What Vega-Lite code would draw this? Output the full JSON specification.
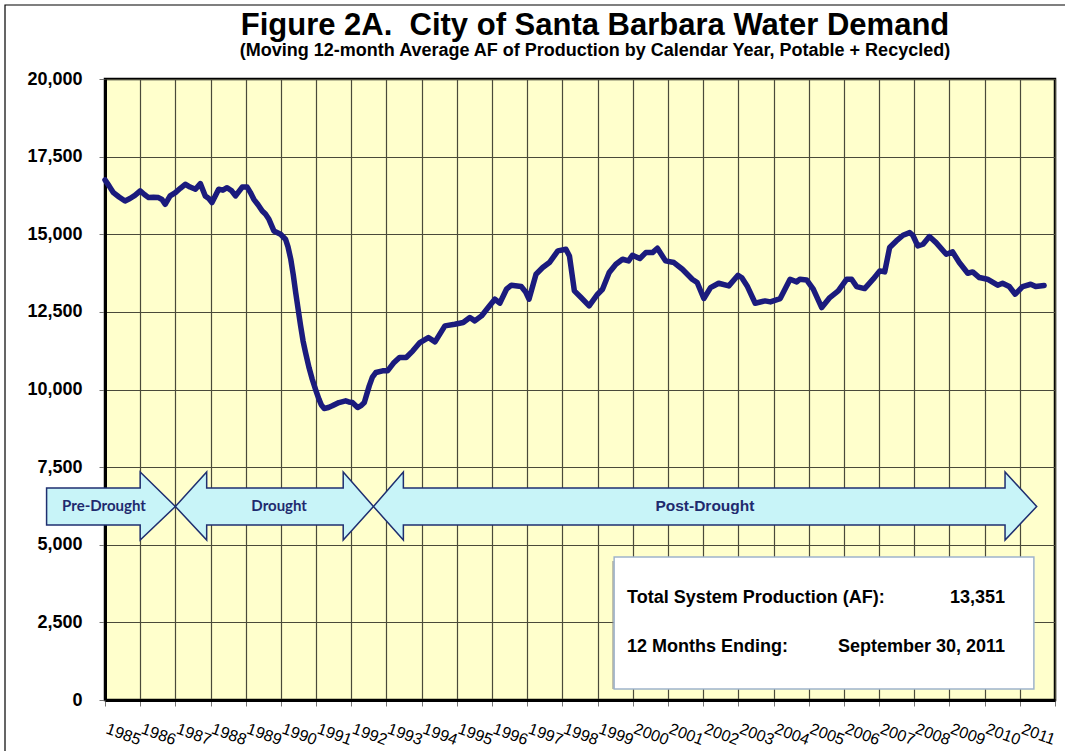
{
  "$schema": "https://vega.github.io/schema/vega-lite/v6.json",
  "autosize": {"type": "none"},
  "width": 950,
  "height": 621,
  "padding": {"left": 105, "top": 79, "right": 10, "bottom": 51},
  "background": "#ffffff",
  "config": {
    "view": {"fill": "#ffffcc", "stroke": "#000000", "strokeWidth": 2.5},
    "font": "Liberation Sans"
  },
  "title": {
    "text": "Figure 2A.\u00a0 City of Santa Barbara Water Demand",
    "subtitle": "(Moving 12-month Average AF of Production by Calendar Year, Potable + Recycled)",
    "frame": "group",
    "anchor": "middle",
    "dx": 15,
    "offset": -57,
    "font": "Liberation Sans",
    "fontSize": 31,
    "fontWeight": "bold",
    "color": "#000000",
    "subtitleFont": "Liberation Sans",
    "subtitleFontSize": 18,
    "subtitleFontWeight": "bold",
    "subtitleColor": "#000000",
    "subtitlePadding": 0
  },
  "datasets": {
    "demand": [
      {"t":1985.0,"v":16750},{"t":1985.12,"v":16550},{"t":1985.24,"v":16340},{"t":1985.4,"v":16200},{"t":1985.57,"v":16073},{"t":1985.71,"v":16150},{"t":1985.85,"v":16250},{"t":1986.0,"v":16395},{"t":1986.12,"v":16280},{"t":1986.24,"v":16180},{"t":1986.38,"v":16190},{"t":1986.52,"v":16180},{"t":1986.62,"v":16120},{"t":1986.71,"v":15965},{"t":1986.85,"v":16234},{"t":1987.0,"v":16340},{"t":1987.14,"v":16480},{"t":1987.28,"v":16610},{"t":1987.42,"v":16520},{"t":1987.57,"v":16450},{"t":1987.71,"v":16630},{"t":1987.85,"v":16234},{"t":1987.95,"v":16150},{"t":1988.04,"v":16020},{"t":1988.23,"v":16450},{"t":1988.35,"v":16420},{"t":1988.47,"v":16500},{"t":1988.6,"v":16400},{"t":1988.71,"v":16234},{"t":1988.9,"v":16520},{"t":1989.04,"v":16520},{"t":1989.13,"v":16350},{"t":1989.23,"v":16125},{"t":1989.35,"v":15950},{"t":1989.47,"v":15750},{"t":1989.56,"v":15650},{"t":1989.66,"v":15480},{"t":1989.8,"v":15107},{"t":1989.99,"v":15000},{"t":1990.13,"v":14840},{"t":1990.2,"v":14600},{"t":1990.28,"v":14195},{"t":1990.35,"v":13700},{"t":1990.42,"v":13120},{"t":1990.49,"v":12580},{"t":1990.56,"v":12050},{"t":1990.63,"v":11560},{"t":1990.7,"v":11190},{"t":1990.8,"v":10700},{"t":1990.89,"v":10330},{"t":1991.0,"v":9950},{"t":1991.08,"v":9690},{"t":1991.15,"v":9500},{"t":1991.23,"v":9390},{"t":1991.35,"v":9420},{"t":1991.46,"v":9474},{"t":1991.65,"v":9580},{"t":1991.84,"v":9635},{"t":1991.93,"v":9600},{"t":1992.03,"v":9580},{"t":1992.18,"v":9420},{"t":1992.28,"v":9480},{"t":1992.37,"v":9580},{"t":1992.51,"v":10117},{"t":1992.6,"v":10400},{"t":1992.7,"v":10547},{"t":1992.89,"v":10600},{"t":1993.03,"v":10600},{"t":1993.2,"v":10850},{"t":1993.37,"v":11030},{"t":1993.56,"v":11030},{"t":1993.75,"v":11245},{"t":1993.95,"v":11513},{"t":1994.19,"v":11674},{"t":1994.38,"v":11535},{"t":1994.66,"v":12050},{"t":1994.94,"v":12103},{"t":1995.18,"v":12157},{"t":1995.37,"v":12318},{"t":1995.51,"v":12210},{"t":1995.7,"v":12370},{"t":1995.89,"v":12640},{"t":1996.08,"v":12908},{"t":1996.22,"v":12779},{"t":1996.41,"v":13230},{"t":1996.55,"v":13358},{"t":1996.83,"v":13315},{"t":1996.95,"v":13150},{"t":1997.05,"v":12908},{"t":1997.25,"v":13712},{"t":1997.44,"v":13927},{"t":1997.63,"v":14088},{"t":1997.87,"v":14463},{"t":1998.1,"v":14517},{"t":1998.2,"v":14302},{"t":1998.34,"v":13176},{"t":1998.53,"v":12961},{"t":1998.76,"v":12693},{"t":1999.0,"v":13069},{"t":1999.14,"v":13230},{"t":1999.33,"v":13766},{"t":1999.52,"v":14034},{"t":1999.71,"v":14195},{"t":1999.88,"v":14142},{"t":1999.99,"v":14324},{"t":2000.2,"v":14217},{"t":2000.37,"v":14410},{"t":2000.56,"v":14410},{"t":2000.7,"v":14550},{"t":2000.93,"v":14142},{"t":2001.17,"v":14088},{"t":2001.41,"v":13873},{"t":2001.69,"v":13550},{"t":2001.83,"v":13444},{"t":2002.02,"v":12929},{"t":2002.21,"v":13283},{"t":2002.44,"v":13423},{"t":2002.73,"v":13337},{"t":2002.99,"v":13680},{"t":2003.1,"v":13600},{"t":2003.25,"v":13337},{"t":2003.48,"v":12779},{"t":2003.76,"v":12854},{"t":2003.91,"v":12822},{"t":2004.19,"v":12929},{"t":2004.47,"v":13552},{"t":2004.66,"v":13466},{"t":2004.75,"v":13552},{"t":2004.94,"v":13530},{"t":2005.13,"v":13230},{"t":2005.37,"v":12640},{"t":2005.6,"v":12961},{"t":2005.84,"v":13176},{"t":2006.08,"v":13552},{"t":2006.22,"v":13552},{"t":2006.36,"v":13315},{"t":2006.59,"v":13251},{"t":2006.83,"v":13552},{"t":2007.02,"v":13820},{"t":2007.16,"v":13787},{"t":2007.3,"v":14571},{"t":2007.49,"v":14785},{"t":2007.68,"v":14968},{"t":2007.87,"v":15054},{"t":2007.96,"v":14968},{"t":2008.1,"v":14624},{"t":2008.25,"v":14678},{"t":2008.43,"v":14925},{"t":2008.62,"v":14731},{"t":2008.91,"v":14356},{"t":2009.09,"v":14431},{"t":2009.28,"v":14088},{"t":2009.52,"v":13744},{"t":2009.66,"v":13787},{"t":2009.85,"v":13605},{"t":2010.08,"v":13552},{"t":2010.37,"v":13358},{"t":2010.51,"v":13423},{"t":2010.7,"v":13315},{"t":2010.87,"v":13069},{"t":2011.08,"v":13315},{"t":2011.31,"v":13390},{"t":2011.45,"v":13315},{"t":2011.69,"v":13351}
    ],
    "arrows": [
      {"arrow":"Pre-Drought","t":1983.34,"v":5636,"v2":6827},
      {"arrow":"Pre-Drought","t":1986.0,"v":5636,"v2":6827},
      {"arrow":"Pre-Drought","t":1986.0,"v":5153,"v2":7343},
      {"arrow":"Pre-Drought","t":1987.0,"v":6232,"v2":6232},
      {"arrow":"Drought","t":1987.0,"v":6232,"v2":6232},
      {"arrow":"Drought","t":1987.89,"v":5153,"v2":7343},
      {"arrow":"Drought","t":1987.89,"v":5636,"v2":6827},
      {"arrow":"Drought","t":1991.77,"v":5636,"v2":6827},
      {"arrow":"Drought","t":1991.77,"v":5153,"v2":7343},
      {"arrow":"Drought","t":1992.63,"v":6232,"v2":6232},
      {"arrow":"Post-Drought","t":1992.63,"v":6232,"v2":6232},
      {"arrow":"Post-Drought","t":1993.48,"v":5153,"v2":7343},
      {"arrow":"Post-Drought","t":1993.48,"v":5636,"v2":6827},
      {"arrow":"Post-Drought","t":2010.58,"v":5636,"v2":6827},
      {"arrow":"Post-Drought","t":2010.58,"v":5153,"v2":7343},
      {"arrow":"Post-Drought","t":2011.48,"v":6232,"v2":6232}
    ],
    "calibriLabels": [
      {"t":1984.97,"v":6240,"label":"Pre-Drought"},
      {"t":1989.95,"v":6240,"label":"Drought"}
    ],
    "arialLabels": [
      {"t":2002.05,"v":6240,"label":"Post-Drought"}
    ],
    "box": [{"t":1999.47,"t2":2011.4,"v":4605,"v2":354}],
    "frame": [{"t":1982.158,"t2":2014.0,"v":22383,"v2":-4000}],
    "boxLeft": [
      {"t":1999.836,"v":3134,"label":"Total System Production (AF):"},
      {"t":1999.836,"v":1556,"label":"12 Months Ending:"}
    ],
    "boxRight": [
      {"t":2010.58,"v":3134,"label":"13,351"},
      {"t":2010.58,"v":1556,"label":"September 30, 2011"}
    ]
  },
  "encoding": {
    "x": {
      "field": "t",
      "type": "quantitative",
      "scale": {"domain": [1985, 2012], "nice": false, "zero": false},
      "axis": {
        "title": null,
        "values": [1985,1986,1987,1988,1989,1990,1991,1992,1993,1994,1995,1996,1997,1998,1999,2000,2001,2002,2003,2004,2005,2006,2007,2008,2009,2010,2011,2012],
        "format": "d",
        "labelExpr": "datum.value >= 2012 ? '' : datum.label",
        "labelAngle": 20,
        "labelAlign": "center",
        "labelBaseline": "middle",
        "labelOffset": 18,
        "labelPadding": 28,
        "labelFont": "Liberation Sans",
        "labelFontSize": 16,
        "labelColor": "#000000",
        "labelOverlap": false,
        "labelBound": false,
        "labelFlush": false,
        "tickSize": 6,
        "tickColor": "#777777",
        "domainColor": "#000000",
        "domainWidth": 3,
        "grid": true,
        "gridColor": "#4a4a3a",
        "gridWidth": 1.2
      }
    },
    "y": {
      "field": "v",
      "type": "quantitative",
      "scale": {"domain": [0, 20000], "nice": false},
      "axis": {
        "title": null,
        "values": [0,2500,5000,7500,10000,12500,15000,17500,20000],
        "format": ",.0f",
        "labelFont": "Liberation Sans",
        "labelFontSize": 18,
        "labelFontWeight": "bold",
        "labelColor": "#000000",
        "labelPadding": 17,
        "tickSize": 6,
        "tickColor": "#777777",
        "domainColor": "#000000",
        "domainWidth": 3,
        "grid": true,
        "gridColor": "#4a4a3a",
        "gridWidth": 1.2
      }
    }
  },
  "layer": [
    {
      "data": {"name": "frame"},
      "mark": {"type": "rect", "fill": null, "fillOpacity": 0, "stroke": "#000000", "strokeWidth": 1.2},
      "encoding": {"x2": {"field": "t2"}, "y2": {"field": "v2"}}
    },
    {
      "data": {"name": "arrows"},
      "mark": {"type": "area", "fill": "#c8f4f8", "fillOpacity": 1, "stroke": "#1f2f70", "strokeWidth": 1.5, "interpolate": "linear"},
      "encoding": {"y2": {"field": "v2"}, "detail": {"field": "arrow"}}
    },
    {
      "data": {"name": "calibriLabels"},
      "mark": {"type": "text", "font": "Lato", "fontSize": 15, "fontWeight": "bold", "color": "#1f2a6e", "align": "center", "baseline": "middle"},
      "encoding": {"text": {"field": "label"}}
    },
    {
      "data": {"name": "arialLabels"},
      "mark": {"type": "text", "font": "Liberation Sans", "fontSize": 15.5, "fontWeight": "bold", "color": "#1f2a6e", "align": "center", "baseline": "middle"},
      "encoding": {"text": {"field": "label"}}
    },
    {
      "data": {"name": "box"},
      "mark": {"type": "rect", "fill": "#8a8a8a", "opacity": 0.6, "xOffset": -2, "yOffset": 4},
      "encoding": {"x2": {"field": "t2"}, "y2": {"field": "v2"}}
    },
    {
      "data": {"name": "box"},
      "mark": {"type": "rect", "fill": "#ffffff", "stroke": "#9fb4cc", "strokeWidth": 1.5},
      "encoding": {"x2": {"field": "t2"}, "y2": {"field": "v2"}}
    },
    {
      "data": {"name": "boxLeft"},
      "mark": {"type": "text", "font": "Liberation Sans", "fontSize": 18, "fontWeight": "bold", "color": "#000000", "align": "left", "baseline": "alphabetic"},
      "encoding": {"text": {"field": "label"}}
    },
    {
      "data": {"name": "boxRight"},
      "mark": {"type": "text", "font": "Liberation Sans", "fontSize": 18, "fontWeight": "bold", "color": "#000000", "align": "right", "baseline": "alphabetic"},
      "encoding": {"text": {"field": "label"}}
    },
    {
      "data": {"name": "demand"},
      "mark": {"type": "line", "color": "#1b1b7d", "strokeWidth": 5.5, "strokeJoin": "round", "strokeCap": "round"}
    }
  ]
}
